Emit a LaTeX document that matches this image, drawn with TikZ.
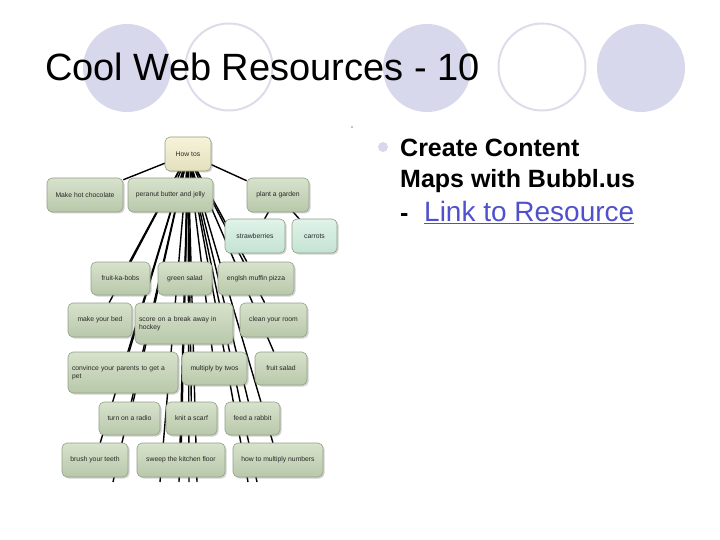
\documentclass[tikz,border=0pt]{standalone}
\usepackage{fontspec}
\setmainfont{Liberation Sans}
\usetikzlibrary{backgrounds,shadows}
\definecolor{lavender}{RGB}{216,216,236}
\definecolor{ringgray}{RGB}{220,220,234}
\definecolor{linkblue}{RGB}{80,80,205}
\definecolor{boxtop}{RGB}{216,226,204}
\definecolor{boxbot}{RGB}{184,200,170}
\definecolor{boxedge}{RGB}{145,160,135}
\definecolor{minttop}{RGB}{224,243,233}
\definecolor{mintbot}{RGB}{196,227,211}
\definecolor{roottop}{RGB}{246,243,217}
\definecolor{rootbot}{RGB}{228,224,190}
\definecolor{maptext}{RGB}{40,40,40}

\tikzset{
  mapbox/.style={draw=boxedge,line width=0.6pt,rounded corners=5pt,
    top color=boxtop,bottom color=boxbot,
    drop shadow={shadow xshift=1.5pt,shadow yshift=-1.5pt,opacity=0.35},
    text=maptext,font=\fontsize{6.8}{7.8}\selectfont,inner sep=2pt},
  mintbox/.style={mapbox,top color=minttop,bottom color=mintbot},
  rootbox/.style={mapbox,top color=roottop,bottom color=rootbot},
  mapline/.style={line width=1.4pt,black},
}

\begin{document}
\begin{tikzpicture}[x=1pt,y=-1pt]
  % --- page ---
  \useasboundingbox (0,0) rectangle (720,540);

  % --- title circles ---
  \foreach \cx in {127,427,641}{
    \fill[lavender] (\cx,68) circle (44);
  }
  \foreach \cx in {229,542}{
    \draw[ringgray,line width=2pt] (\cx,67) circle (43.5);
  }

  % --- title text ---
  \node[anchor=base west,inner sep=0pt,font=\fontsize{38}{44}\selectfont]
    (title) at (45,81) {Cool Web Resources - 10};

  % --- bullet ---
  \fill[lavender] (383,147) circle (5);
  \node[anchor=base west,inner sep=0pt,font=\fontsize{25}{30}\selectfont\bfseries]
    (line1) at (400,157) {Create Content};
  \node[anchor=base west,inner sep=0pt,font=\fontsize{25}{30}\selectfont\bfseries]
    (line2) at (400,188) {Maps with Bubbl.us};
  \node[anchor=base west,inner sep=0pt,font=\fontsize{25}{30}\selectfont\bfseries]
    (dash) at (400,222) {-};
  \node[anchor=base west,inner sep=0pt,font=\fontsize{28}{32}\selectfont,text=linkblue]
    (line3) at (424,222) {\underline{Link to Resource}};

  % --- mind map nodes ---
  \node[rootbox,minimum width=46pt,minimum height=34pt] (root) at (188,154) {How tos};
  \node[mapbox,minimum width=76pt,minimum height=34pt] (mhc) at (85,195) {Make hot chocolate};
  \node[mapbox,minimum width=85pt,minimum height=34pt] (pbj) at (170.5,195) {peranut butter and jelly};
  \node[mapbox,minimum width=62pt,minimum height=34pt] (garden) at (278,195) {plant a garden};
  \node[mintbox,minimum width=60pt,minimum height=34pt] (straw) at (255,236) {strawberries};
  \node[mintbox,minimum width=45pt,minimum height=34pt] (carrots) at (314.5,236) {carrots};

  \node[mapbox,minimum width=59pt,minimum height=33pt] (kabobs) at (120.5,278.5) {fruit-ka-bobs};
  \node[mapbox,minimum width=54pt,minimum height=33pt] (salad) at (185,278.5) {green salad};
  \node[mapbox,minimum width=76pt,minimum height=33pt] (pizza) at (256,278.5) {englsh muffin pizza};

  \node[mapbox,minimum width=64pt,minimum height=34pt] (bed) at (100,320) {make your bed};
  \node[mapbox,minimum width=98pt,minimum height=41pt,text width=90pt,align=left]
    (hockey) at (184,323.5) {score on a break away in hockey};
  \node[mapbox,minimum width=67pt,minimum height=34pt] (room) at (273.5,320) {clean your room};

  \node[mapbox,minimum width=110pt,minimum height=41pt,text width=102pt,align=left]
    (pet) at (123,372.5) {convince your parents to get a pet};
  \node[mapbox,minimum width=65pt,minimum height=33pt] (twos) at (214.5,368.5) {multiply by twos};
  \node[mapbox,minimum width=52pt,minimum height=33pt] (fsalad) at (281,368.5) {fruit salad};

  \node[mapbox,minimum width=61pt,minimum height=33pt] (radio) at (129.5,418.5) {turn on a radio};
  \node[mapbox,minimum width=51pt,minimum height=33pt] (scarf) at (191.5,418.5) {knit a scarf};
  \node[mapbox,minimum width=55pt,minimum height=33pt] (rabbit) at (252.5,418.5) {feed a rabbit};

  \node[mapbox,minimum width=66pt,minimum height=34pt] (teeth) at (95,460) {brush your teeth};
  \node[mapbox,minimum width=88pt,minimum height=34pt] (sweep) at (181,460) {sweep the kitchen floor};
  \node[mapbox,minimum width=90pt,minimum height=34pt] (howmult) at (278,460) {how to multiply numbers};

  % stray mark
  \fill (352,127) circle (0.7);

  % --- cut-off ends below the map ---
  \coordinate (off1) at (113,482);
  \coordinate (off2) at (160,482);
  \coordinate (off3) at (179,482);
  \coordinate (off4) at (189,482);
  \coordinate (off5) at (197,482);
  \coordinate (off6) at (248,482);
  \coordinate (off7) at (257,482);

  % --- connectors ---
  \begin{pgfonlayer}{background}
    \foreach \n in {mhc,pbj,garden,kabobs,salad,pizza,bed,hockey,room,pet,twos,fsalad,
                    radio,scarf,rabbit,teeth,sweep,howmult,off1,off2,off3,off4,off5,off6,off7}{
      \draw[mapline] (root.center) -- (\n);
    }
    \draw[mapline] (garden.center) -- (straw.center);
    \draw[mapline] (garden.center) -- (carrots.center);
  \end{pgfonlayer}
\end{tikzpicture}
\end{document}
